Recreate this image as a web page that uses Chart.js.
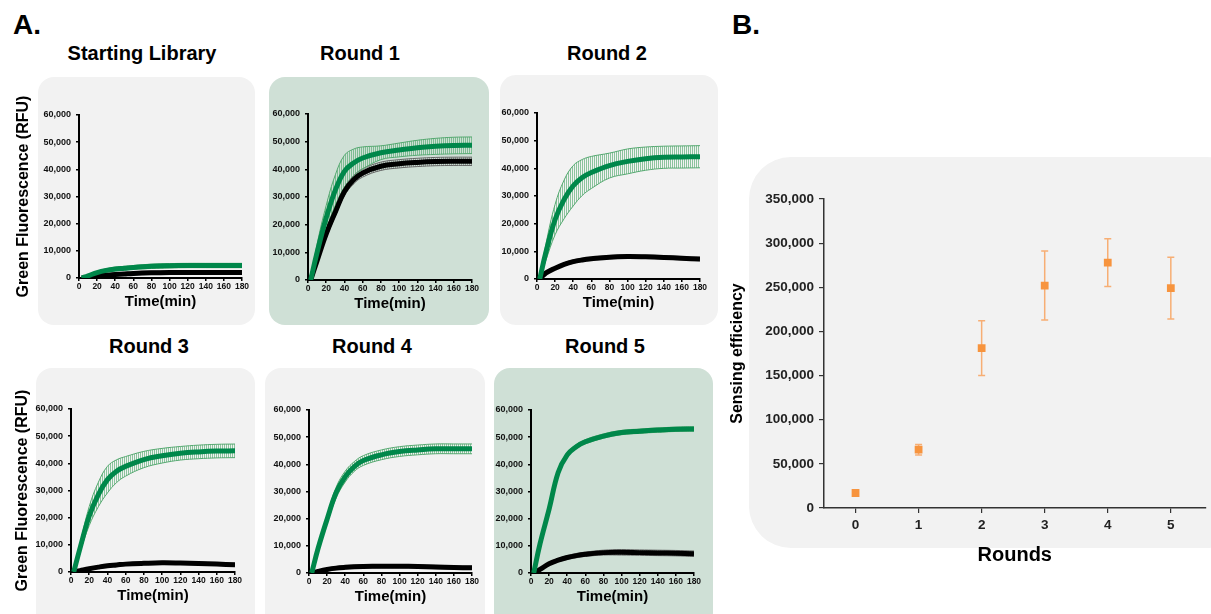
<!DOCTYPE html>
<html>
<head>
<meta charset="utf-8">
<script src="https://cdn.jsdelivr.net/npm/chart.js@4/dist/chart.umd.min.js"></script>
<style>
  body { margin: 0; width: 1211px; height: 614px; position: relative; overflow: hidden; background: #fff;
         font-family: "Liberation Sans", Arial, sans-serif; }
  .panel { position: absolute; background: #f2f2f2; border-radius: 16px; }
  .panel.green { background: #cfe0d6; }
  .lbl { position: absolute; font-weight: bold; color: #000; white-space: nowrap; transform: translate(-50%, -50%); }
  canvas { position: absolute; }
</style>
</head>
<body>

<div class="panel" style="left:38px;top:77px;width:217px;height:248px"></div>
<div class="panel green" style="left:269px;top:77px;width:220px;height:248px"></div>
<div class="panel" style="left:500px;top:75px;width:218px;height:250px"></div>
<div class="panel" style="left:36px;top:368px;width:219px;height:260px"></div>
<div class="panel" style="left:265px;top:368px;width:220px;height:260px"></div>
<div class="panel green" style="left:494px;top:368px;width:219px;height:260px"></div>
<div class="panel" style="left:749px;top:157px;width:500px;height:391px;border-radius:42px"></div>

<div class="lbl" style="left:27px;top:25px;font-size:28px">A.</div>
<div class="lbl" style="left:746px;top:25px;font-size:28px">B.</div>
<div class="lbl" style="left:142px;top:53px;font-size:20px">Starting Library</div>
<div class="lbl" style="left:360px;top:53px;font-size:20px">Round 1</div>
<div class="lbl" style="left:607px;top:53px;font-size:20px">Round 2</div>
<div class="lbl" style="left:149px;top:346px;font-size:20px">Round 3</div>
<div class="lbl" style="left:372px;top:346px;font-size:20px">Round 4</div>
<div class="lbl" style="left:605px;top:346px;font-size:20px">Round 5</div>

<script>
// ---------- data ----------
const minutes = [3, 10, 20, 30, 40, 50, 60, 80, 100, 120, 140, 160, 180];

const libGreen    = [0, 800, 2000, 2800, 3300, 3600, 3900, 4300, 4500, 4600, 4600, 4600, 4600];
const libGreenErr = [0, 300, 500, 600, 700, 700, 700, 800, 800, 800, 800, 800, 800];
const libBlack    = [0, 300, 800, 1100, 1300, 1500, 1700, 1900, 2000, 2000, 2000, 2000, 2000];
const libBlackErr = [0, 200, 300, 400, 500, 500, 600, 600, 600, 600, 600, 600, 600];

const r1Green    = [0, 10000, 22500, 32500, 39300, 42300, 44100, 46000, 47000, 47800, 48300, 48600, 48700];
const r1GreenErr = [0, 3000, 4500, 5500, 5800, 5000, 4000, 2500, 2500, 2700, 2900, 3000, 3000];
const r1Black    = [0, 7000, 16700, 24600, 32000, 36200, 38700, 41100, 42000, 42500, 42800, 42900, 42900];
const r1BlackErr = [0, 1000, 1500, 1500, 1500, 1500, 1500, 1500, 1500, 1500, 1500, 1500, 1500];

const r2Green    = [0, 9900, 21500, 28800, 33700, 36700, 38500, 41000, 42500, 43500, 44000, 44100, 44200];
const r2GreenErr = [0, 3000, 5500, 7000, 7300, 6500, 5800, 4500, 4500, 4200, 4000, 4000, 4000];
const r2Black    = [0, 2200, 3900, 5300, 6300, 6900, 7300, 7900, 8100, 8000, 7800, 7500, 7200];
const r2BlackErr = [0, 400, 500, 600, 600, 600, 600, 600, 600, 600, 600, 600, 600];

const r3Green    = [0, 8900, 20600, 28500, 34000, 37100, 38900, 41400, 42800, 43700, 44200, 44500, 44600];
const r3GreenErr = [0, 1500, 3500, 4500, 4900, 4200, 3600, 3000, 2700, 2500, 2500, 2500, 2500];
const r3Black    = [0, 500, 1200, 1800, 2300, 2600, 2900, 3200, 3400, 3300, 3100, 2900, 2700];
const r3BlackErr = [0, 300, 400, 500, 500, 500, 500, 500, 500, 500, 500, 500, 500];

const r4Green    = [0, 9000, 19800, 29600, 35500, 39200, 41400, 43500, 44700, 45300, 45700, 45700, 45700];
const r4GreenErr = [0, 1000, 1500, 2000, 2000, 1800, 1800, 1800, 1800, 1800, 1800, 1800, 1800];
const r4Black    = [0, 600, 1300, 1800, 2100, 2300, 2400, 2500, 2500, 2400, 2200, 2000, 1900];
const r4BlackErr = [0, 400, 500, 600, 600, 600, 600, 600, 600, 600, 600, 600, 600];

const r5Green    = [0, 10800, 23500, 37000, 43500, 46500, 48300, 50400, 51700, 52200, 52600, 52900, 53000];
const r5GreenErr = [0, 500, 700, 800, 800, 800, 800, 800, 800, 800, 800, 800, 800];
const r5Black    = [0, 1300, 3400, 4700, 5700, 6400, 6900, 7500, 7600, 7500, 7400, 7300, 7100];
const r5BlackErr = [0, 300, 500, 600, 700, 800, 800, 900, 1000, 1000, 1000, 1000, 1000];

const yTicks = [0, 10000, 20000, 30000, 40000, 50000, 60000];
const xTicks = [0, 20, 40, 60, 80, 100, 120, 140, 160, 180];

const rounds = [0, 1, 2, 3, 4, 5];
const efficiency    = [17000, 66000, 181000, 252000, 278000, 249000];
const efficiencyErr = [1500, 6000, 31000, 39000, 27000, 35000];

// ---------- helpers ----------
Chart.defaults.font.family = '"Liberation Sans", Arial, sans-serif';
const GREEN = '#00874a';

function hatch(color) {
    const c = document.createElement('canvas');
    c.width = 2; c.height = 8;
    const g = c.getContext('2d');
    g.fillStyle = color;
    g.fillRect(0, 0, 1, 8);
    return g.createPattern(c, 'repeat');
}

const pts = arr => minutes.map((t, i) => ({ x: t, y: arr[i] }));
const band = (mean, err, sign) => minutes.map((t, i) => ({ x: t, y: mean[i] + sign * err[i] }));

function addCanvas(left, top, w, h) {
    const cv = document.createElement('canvas');
    cv.width = w; cv.height = h;
    cv.style.left = left + 'px'; cv.style.top = top + 'px';
    cv.style.width = w + 'px'; cv.style.height = h + 'px';
    document.body.appendChild(cv);
    return cv;
}

// ---------- panel A: kinetics ----------
const kinPanels = [
    { area: [79, 115, 242, 278], g: libGreen, ge: libGreenErr, b: libBlack, be: libBlackErr, yTitle: true, tpad: 6 },
    { area: [308, 114, 472, 280], g: r1Green, ge: r1GreenErr, b: r1Black, be: r1BlackErr },
    { area: [537, 113, 700, 279], g: r2Green, ge: r2GreenErr, b: r2Black, be: r2BlackErr },
    { area: [71, 409, 235, 572], g: r3Green, ge: r3GreenErr, b: r3Black, be: r3BlackErr, yTitle: true, tpad: 13 },
    { area: [309, 410, 472, 573], g: r4Green, ge: r4GreenErr, b: r4Black, be: r4BlackErr },
    { area: [531, 410, 694, 573], g: r5Green, ge: r5GreenErr, b: r5Black, be: r5BlackErr }
];

const lineOpts = { pointRadius: 0, tension: 0.4 };

kinPanels.forEach(p => {
    const [l, t, r, b] = p.area;
    const cv = addCanvas(l - 71, t - 27, r - l + 83, b - t + 67);
    new Chart(cv, {
        type: 'line',
        data: {
            datasets: [
                { data: pts(p.g), borderColor: GREEN, borderWidth: 5, fill: false, ...lineOpts },
                { data: pts(p.b), borderColor: '#000', borderWidth: 5, fill: false, ...lineOpts },
                { data: band(p.g, p.ge, 1), borderColor: '#55a870', borderWidth: 1, fill: false, ...lineOpts },
                { data: band(p.g, p.ge, -1), borderColor: '#55a870', borderWidth: 1, fill: '-1',
                  backgroundColor: hatch('rgba(70,165,100,0.6)'), ...lineOpts },
                { data: band(p.b, p.be, 1), borderColor: '#666', borderWidth: 1, fill: false, ...lineOpts },
                { data: band(p.b, p.be, -1), borderColor: '#666', borderWidth: 1, fill: '-1',
                  backgroundColor: hatch('rgba(90,90,90,0.5)'), ...lineOpts }
            ]
        },
        options: {
            responsive: false,
            animation: false,
            events: [],
            layout: { padding: { top: 27, right: 12, bottom: 7, left: 0 } },
            plugins: { legend: { display: false }, tooltip: { enabled: false } },
            scales: {
                x: {
                    type: 'linear', min: 0, max: 180,
                    afterBuildTicks: s => { s.ticks = xTicks.map(v => ({ value: v })); },
                    afterFit: s => { s.height = 33; },
                    ticks: { font: { size: 8.5, weight: 'bold' }, color: '#111', padding: 1, maxRotation: 0, autoSkip: false },
                    grid: { drawOnChartArea: false, drawTicks: true, tickLength: 3, color: '#000', lineWidth: 1.5 },
                    border: { display: true, color: '#000', width: 2 },
                    title: { display: true, text: 'Time(min)', color: '#000',
                             font: { size: 15, weight: 'bold' }, padding: { top: 0, bottom: 0 } }
                },
                y: {
                    type: 'linear', min: 0, max: 60000,
                    afterBuildTicks: s => { s.ticks = yTicks.map(v => ({ value: v })); },
                    afterFit: s => { s.width = 71; },
                    ticks: { font: { size: 9, weight: 'bold' }, color: '#111', padding: 5,
                             callback: v => v.toLocaleString('en-US') },
                    grid: { drawOnChartArea: false, drawTicks: true, tickLength: 3, color: '#000', lineWidth: 1.5 },
                    border: { display: true, color: '#000', width: 2 },
                    title: { display: !!p.yTitle, text: 'Green Fluorescence (RFU)', color: '#000',
                             font: { size: 16, weight: 'bold' }, padding: { top: p.tpad || 0, bottom: 0 } }
                }
            }
        }
    });
});

// ---------- panel B: sensing efficiency ----------
const errorBars = {
    id: 'errorBars',
    beforeDatasetsDraw(chart) {
        const { ctx, scales: { x, y } } = chart;
        ctx.save();
        ctx.strokeStyle = '#f7ae74';
        ctx.lineWidth = 1.5;
        rounds.forEach((r, i) => {
            const px = x.getPixelForValue(r);
            const top = y.getPixelForValue(efficiency[i] + efficiencyErr[i]);
            const bot = y.getPixelForValue(efficiency[i] - efficiencyErr[i]);
            ctx.beginPath();
            ctx.moveTo(px, top); ctx.lineTo(px, bot);
            ctx.moveTo(px - 3.5, top); ctx.lineTo(px + 3.5, top);
            ctx.moveTo(px - 3.5, bot); ctx.lineTo(px + 3.5, bot);
            ctx.stroke();
        });
        ctx.restore();
    }
};

const effCanvas = addCanvas(720, 180, 491, 395);
new Chart(effCanvas, {
    type: 'scatter',
    data: {
        datasets: [{
            data: rounds.map((r, i) => ({ x: r, y: efficiency[i] })),
            pointStyle: 'rect', pointRadius: 5.5, borderWidth: 0,
            backgroundColor: '#f7943e'
        }]
    },
    options: {
        responsive: false,
        animation: false,
        events: [],
        layout: { padding: { top: 19, right: 0, bottom: 5, left: 0 } },
        plugins: { legend: { display: false }, tooltip: { enabled: false } },
        scales: {
            x: {
                type: 'linear', min: -0.5, max: 5.55,
                afterBuildTicks: s => { s.ticks = rounds.map(v => ({ value: v })); },
                afterFit: s => { s.height = 62; },
                ticks: { font: { size: 13.5, weight: 'bold' }, color: '#222', padding: 4 },
                grid: { drawOnChartArea: false, drawTicks: true, tickLength: 5, color: '#333', lineWidth: 1.2 },
                border: { display: true, color: '#333', width: 1.5 },
                title: { display: true, text: 'Rounds', color: '#000',
                         font: { size: 20, weight: 'bold' }, padding: { top: 0, bottom: 3 } }
            },
            y: {
                type: 'linear', min: 0, max: 350000,
                ticks: { stepSize: 50000, font: { size: 13.5, weight: 'bold' }, color: '#222', padding: 5,
                         callback: v => v.toLocaleString('en-US') },
                afterFit: s => { s.width = 104; },
                grid: { drawOnChartArea: false, drawTicks: true, tickLength: 5, color: '#333', lineWidth: 1.2 },
                border: { display: true, color: '#333', width: 1.5 },
                title: { display: true, text: 'Sensing efficiency', color: '#000',
                         font: { size: 16, weight: 'bold' }, padding: { top: 8, bottom: 0 } }
            }
        }
    },
    plugins: [errorBars]
});
</script>
</body>
</html>
